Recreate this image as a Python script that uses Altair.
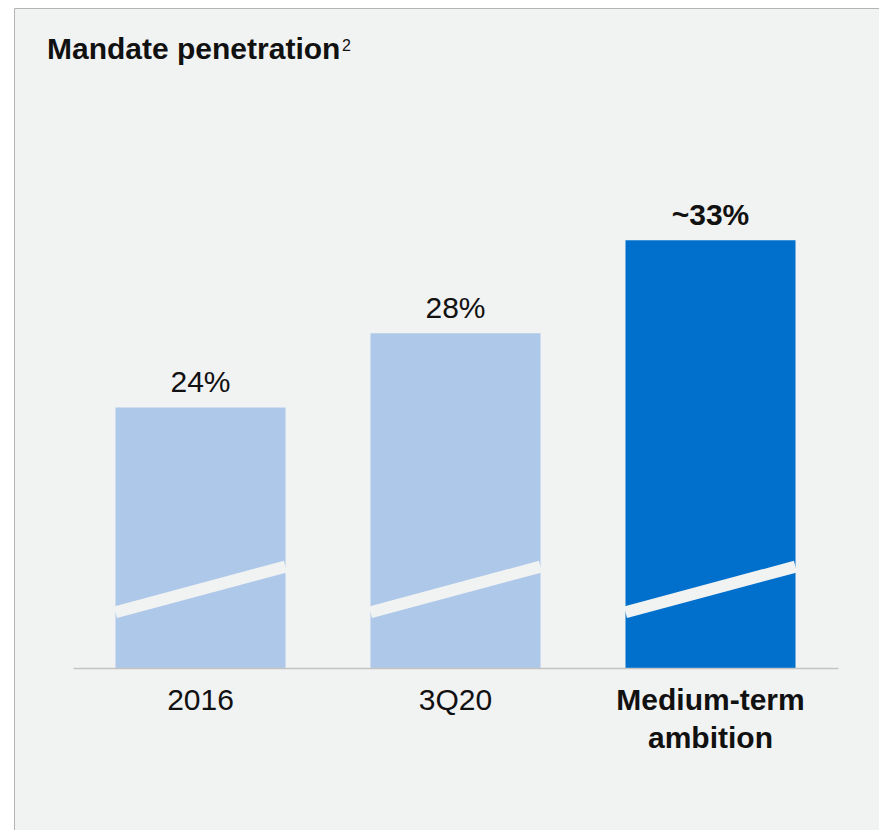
import altair as alt
import pandas as pd

# ---- data ----
categories = ["2016", "3Q20", "Medium-term ambition"]
values = [24, 28, 33]
axis_base = [10, 10, 10]          # broken axis starts at 10
value_labels = ["24%", "28%", "~33%"]
label_weights = ["normal", "normal", "bold"]
bar_colors = ["#aec8e9", "#aec8e9", "#0070cc"]
# axis-break stripe (in data units on the broken y axis)
break_low = [13.0, 13.0, 13.0]
break_high = [15.45, 15.45, 15.45]

title_text = "Mandate penetration"
title_note = "2"

BG = "#f1f2f2"
FONT = "Liberation Sans"

df = pd.DataFrame({
    "cat": categories,
    "value": values,
    "base": axis_base,
    "label": value_labels,
    "weight": label_weights,
    "color": bar_colors,
    "blo": break_low,
    "bhi": break_high,
})

x_enc = alt.X(
    "cat:N",
    sort=categories,
    scale=alt.Scale(paddingInner=1/3, paddingOuter=1/6),
    axis=alt.Axis(
        title=None,
        ticks=False,
        grid=False,
        zindex=1,
        domainColor="#c4c4c4",
        domainWidth=1.3,
        labelAngle=0,
        labelFont=FONT,
        labelFontSize=30,
        labelColor="#111111",
        labelPadding=17,
        labelLineHeight=38,
        labelLimit=400,
        labelExpr="datum.value == 'Medium-term ambition' ? ['Medium-term', 'ambition'] : datum.value",
        labelFontWeight={"condition": {"test": "datum.value == 'Medium-term ambition'", "value": "bold"}, "value": "normal"},
    ),
)
y_scale = alt.Scale(domain=[10, 40], zero=False, nice=False)

panel = alt.Chart(alt.Data(values=[{}])).mark_rect(
    fill=BG, stroke="#b4b4b4", strokeWidth=1
).encode(
    x=alt.value(-58.5), x2=alt.value(830),
    y=alt.value(-101.5), y2=alt.value(740),
)

base = alt.Chart(df)

bars = base.mark_bar().encode(
    x=x_enc,
    y=alt.Y("value:Q", scale=y_scale, axis=None),
    y2="base:Q",
    color=alt.Color("color:N", scale=None, legend=None),
)

stripes = base.mark_rule(color=BG, strokeWidth=12, strokeCap="butt").encode(
    x=alt.X("cat:N", sort=categories, bandPosition=0),
    x2=alt.X2("cat", bandPosition=1),
    y=alt.Y("blo:Q", scale=y_scale),
    y2="bhi:Q",
)

labels_regular = base.transform_filter("datum.weight == 'normal'").mark_text(
    font=FONT, fontSize=30, baseline="alphabetic", dy=-15.5, color="#111111"
).encode(
    x=alt.X("cat:N", sort=categories),
    y=alt.Y("value:Q", scale=y_scale),
    text="label:N",
)
labels_bold = base.transform_filter("datum.weight == 'bold'").mark_text(
    font=FONT, fontSize=30, fontWeight="bold", baseline="alphabetic", dy=-15.5, color="#111111"
).encode(
    x=alt.X("cat:N", sort=categories),
    y=alt.Y("value:Q", scale=y_scale),
    text="label:N",
)

title_df = pd.DataFrame({"t": [title_text], "n": [title_note]})
title_mark = alt.Chart(title_df).mark_text(
    font=FONT, fontSize=30, fontWeight="bold", align="left", baseline="alphabetic", color="#111111"
).encode(x=alt.value(-26), y=alt.value(-50.7), text="t:N")
note_mark = alt.Chart(title_df).mark_text(
    font=FONT, fontSize=16, align="left", baseline="alphabetic", color="#111111"
).encode(x=alt.value(269), y=alt.value(-59.5), text="n:N")

chart = alt.layer(
    panel, bars, stripes, labels_regular, labels_bold, title_mark, note_mark
).properties(
    width=765,
    height=558,
    autosize=alt.AutoSizeParams(type="none"),
    padding={"left": 65, "top": 102, "right": 41, "bottom": 162},
    background="#ffffff",
).configure_view(strokeWidth=0)

chart.save("out.html", embed_options={"renderer": "svg", "actions": False})
